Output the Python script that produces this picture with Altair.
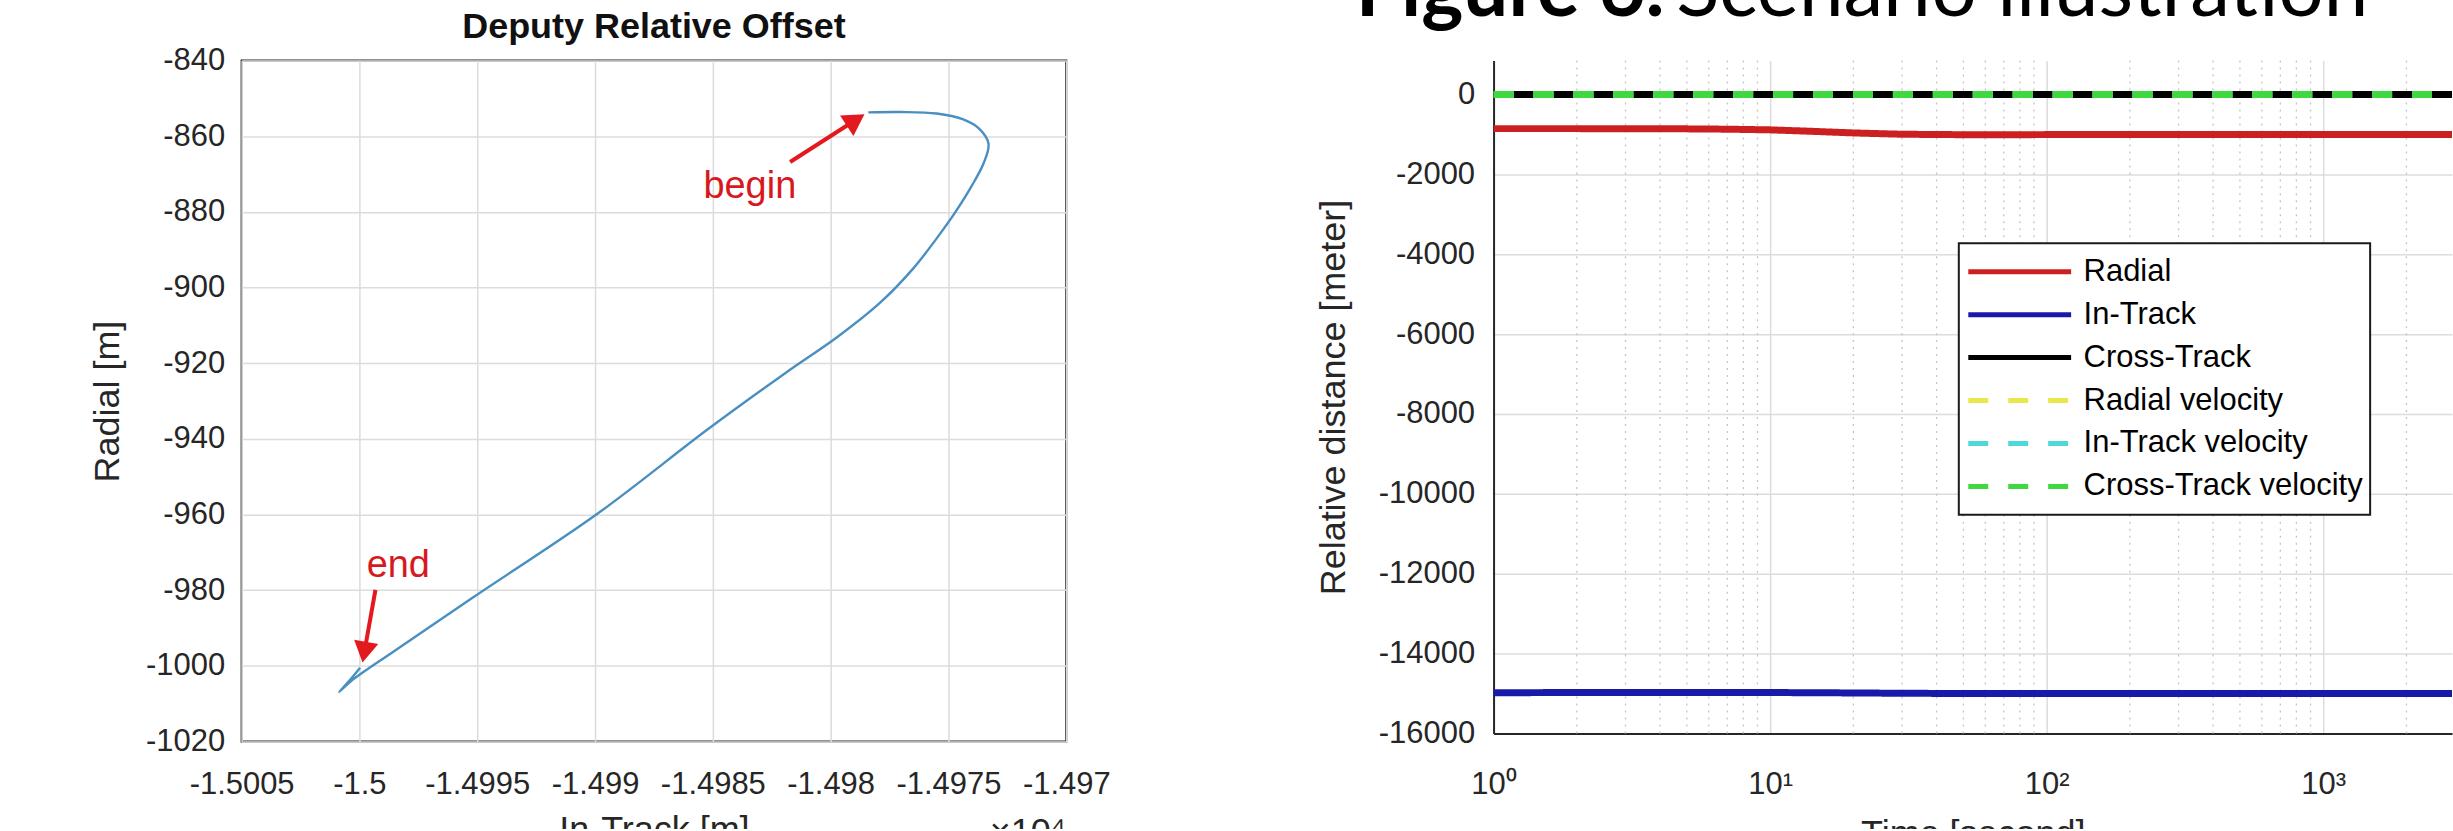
import altair as alt
import pandas as pd

# ---------------- Left panel: Deputy Relative Offset ----------------
# In-Track values are in units of 1e4 m (axis multiplier x10^4), Radial in m
traj_intrack = [-1.49784, -1.49770, -1.49755, -1.49744, -1.49737, -1.49733, -1.49735,
                -1.49740, -1.49747, -1.49755, -1.49765, -1.49779, -1.49797, -1.49819,
                -1.49852, -1.49899, -1.49952, -1.49985, -1.500035, -1.500086,
                -1.500045, -1.499997]
traj_radial = [-853.7, -853.6, -854.0, -855.5, -858.0, -862.0, -867.0, -873.0, -880.0,
               -887.0, -895.0, -904.0, -913.0, -922.5, -937.4, -959.8, -982.0, -996.0,
               -1004.0, -1006.9, -1004.1, -1000.5]

left_xticks = [-1.5005, -1.5, -1.4995, -1.499, -1.4985, -1.498, -1.4975, -1.497]
left_yticks = [-840, -860, -880, -900, -920, -940, -960, -980, -1000, -1020]

annot_text = ["begin", "end"]
annot_x = [-1.498343, -1.499835]
annot_y = [-876.2, -976.4]
arrow_tail_x = [-1.498172, -1.499932]
arrow_tail_y = [-866.8, -979.9]
arrow_head_x = [-1.497894, -1.499979]
arrow_head_y = [-855.7, -996.4]
arrow_angle = [57, 190]

# ---------------- Right panel: Relative distance vs time ----------------
time_s = [1, 2, 3, 5, 7, 10, 14, 20, 30, 50, 100, 200, 500, 1000, 2000, 3000]
radial_m = [-854, -854, -856, -860, -868, -885, -920, -962, -995, -1006, -1004, -1001,
            -1000, -1000, -1000, -1000]
intrack_m = [-14978, -14976, -14975, -14973, -14973, -14975, -14979, -14985, -14993,
             -14999, -15001, -15001, -15000, -15000, -15000, -15000]
crosstrack_m = [0, 0, 0, 0, 0, 0, 0, 0, 0, 0, 0, 0, 0, 0, 0, 0]
radial_vel = [0, 0, 0, 0, 0, 0, 0, 0, 0, 0, 0, 0, 0, 0, 0, 0]
intrack_vel = [0, 0, 0, 0, 0, 0, 0, 0, 0, 0, 0, 0, 0, 0, 0, 0]
crosstrack_vel = [0, 0, 0, 0, 0, 0, 0, 0, 0, 0, 0, 0, 0, 0, 0, 0]

series_names = ["Radial", "In-Track", "Cross-Track", "Radial velocity",
                "In-Track velocity", "Cross-Track velocity"]
series_values = [radial_m, intrack_m, crosstrack_m, radial_vel, intrack_vel, crosstrack_vel]
series_colors = ["#cc1f1f", "#1a1aa8", "#000000", "#e8e84a", "#4fd8d8", "#40d840"]
series_dash = [[1, 0], [1, 0], [1, 0], [20, 20], [20, 20], [20, 20]]

right_xticks = [1, 10, 100, 1000]
right_xlabels = ["10\u2070", "10\u00b9", "10\u00b2", "10\u00b3"]
right_yticks = [0, -2000, -4000, -6000, -8000, -10000, -12000, -14000, -16000]
minor_x = [2, 3, 4, 5, 6, 7, 8, 9, 20, 30, 40, 50, 60, 70, 80, 90,
           200, 300, 400, 500, 600, 700, 800, 900, 2000]

FONT = "Liberation Sans"
AX = "#262626"
GRID = "#dcdcdc"

# ---------------- build left chart ----------------
df_traj = pd.DataFrame({"i": list(range(len(traj_intrack))),
                        "intrack": traj_intrack, "radial": traj_radial})
df_annot = pd.DataFrame({"intrack": annot_x, "radial": annot_y, "label": annot_text})
df_arrow = pd.DataFrame({"intrack": arrow_tail_x, "radial": arrow_tail_y,
                         "intrack2": arrow_head_x, "radial2": arrow_head_y})
df_head = pd.DataFrame({"intrack": arrow_head_x, "radial": arrow_head_y, "ang": arrow_angle})
df_mult = pd.DataFrame({"t": ["\u00d710\u2074"]})
df_title_l = pd.DataFrame({"t": ["Deputy Relative Offset"]})

xsc_l = alt.Scale(domain=[-1.5005, -1.497], nice=False, zero=False)
ysc_l = alt.Scale(domain=[-1020, -840], nice=False, zero=False)

left_x_axis = alt.Axis(values=left_xticks, labelExpr="datum.value + ''", title="In-Track [m]",
                       grid=True, gridColor=GRID, gridWidth=1.5, domain=False, ticks=False,
                       tickSize=0, labelPadding=28, labelFontSize=31, labelColor=AX,
                       labelFlush=False, labelOverlap=False, titleFontSize=36,
                       titleColor=AX, titleFontWeight="normal", titlePadding=13)
left_y_axis = alt.Axis(values=left_yticks, labelExpr="datum.value + ''", title="Radial [m]",
                       grid=True, gridColor=GRID, gridWidth=1.5, domain=False, ticks=False,
                       tickSize=0, labelPadding=17, labelFontSize=31, labelColor=AX,
                       labelFlush=False, labelOverlap=False, titleFontSize=36,
                       titleColor=AX, titleFontWeight="normal", titlePadding=19)

traj = alt.Chart(df_traj).mark_line(color="#4a8fc2", strokeWidth=2.4,
                                    interpolate="catmull-rom").encode(
    x=alt.X("intrack:Q", scale=xsc_l, axis=left_x_axis),
    y=alt.Y("radial:Q", scale=ysc_l, axis=left_y_axis),
    order="i:Q",
)
arrows = alt.Chart(df_arrow).mark_rule(color="#e3191f", strokeWidth=4).encode(
    x="intrack:Q", y="radial:Q", x2="intrack2:Q", y2="radial2:Q")
heads = alt.Chart(df_head).mark_point(shape="triangle-up", filled=True, size=600,
                                      color="#e3191f", opacity=1, strokeWidth=0).encode(
    x="intrack:Q", y="radial:Q", angle=alt.Angle("ang:Q", scale=None))
annots = alt.Chart(df_annot).mark_text(color="#d81820", fontSize=38, align="center",
                                       baseline="alphabetic").encode(
    x="intrack:Q", y="radial:Q", text="label:N")
mult = alt.Chart(df_mult).mark_text(color=AX, fontSize=36, align="right",
                                    baseline="alphabetic").encode(
    x=alt.value(826), y=alt.value(784), text="t:N")
title_l = alt.Chart(df_title_l).mark_text(color="#111111", fontSize=36, fontWeight="bold",
                                          align="center", baseline="alphabetic").encode(
    x=alt.value(413), y=alt.value(-23), text="t:N")

left = alt.layer(traj, arrows, heads, annots, mult, title_l).properties(
    width=826, height=682,
    view=alt.ViewBackground(stroke=AX, strokeWidth=2),
)

# ---------------- build right chart ----------------
rows = []
for name, vals in zip(series_names, series_values):
    for t, v in zip(time_s, vals):
        rows.append({"time": t, "value": v, "series": name})
df_series = pd.DataFrame(rows)
df_minor = pd.DataFrame({"time": minor_x})
df_fig_a = pd.DataFrame({"t": ["Figure 6."]})
df_fig_b = pd.DataFrame({"t": ["Scenario illustration"]})

xsc_r = alt.Scale(type="log", domain=[1, 2923], nice=False)
ysc_r = alt.Scale(domain=[-16000, 850], nice=False, zero=False)

xlab_expr = ""
for v, lab in zip(right_xticks, right_xlabels):
    xlab_expr += f"datum.value == {v} ? '{lab}' : "
xlab_expr += "''"

right_x_axis = alt.Axis(values=right_xticks, labelExpr=xlab_expr, title="Time [second]",
                        grid=True, gridColor=GRID, gridWidth=1.5, domain=True,
                        domainColor=AX, domainWidth=2, ticks=False, tickSize=0,
                        labelPadding=36, labelFontSize=31, labelColor=AX, labelFlush=False,
                        labelOverlap=False, titleFontSize=36, titleColor=AX,
                        titleFontWeight="normal", titlePadding=17)
right_y_axis = alt.Axis(values=right_yticks, labelExpr="datum.value + ''",
                        title="Relative distance [meter]", grid=True, gridColor=GRID,
                        gridWidth=1.5, domain=True, domainColor=AX, domainWidth=2,
                        ticks=False, tickSize=0, labelPadding=19, labelFontSize=31,
                        labelColor=AX, labelFlush=False, labelOverlap=False,
                        titleFontSize=36, titleColor=AX, titleFontWeight="normal",
                        titlePadding=26)

# legend is hoisted to the concat level: position relative to the left plot origin
leg = alt.Legend(title=None, orient="none", legendX=1720, legendY=183, direction="vertical",
                 symbolType="stroke", symbolSize=10609, symbolStrokeWidth=5, clipHeight=43,
                 rowPadding=0, labelFontSize=31, labelColor="#000000", labelOffset=10,
                 labelLimit=500, padding=7, strokeColor="#1a1a1a", fillColor="white")

minor = alt.Chart(df_minor).mark_rule(color="#c4c4c4", strokeWidth=1.3,
                                      strokeDash=[2, 5]).encode(
    x=alt.X("time:Q", scale=xsc_r, axis=right_x_axis))

line_layers = []
for name in series_names:
    line_layers.append(
        alt.Chart(df_series).transform_filter(alt.datum.series == name)
        .mark_line(strokeWidth=7, clip=True, strokeCap="butt")
        .encode(
            x=alt.X("time:Q", scale=xsc_r),
            y=alt.Y("value:Q", scale=ysc_r, axis=right_y_axis),
            color=alt.Color("series:N", scale=alt.Scale(domain=series_names,
                                                        range=series_colors), legend=leg),
            strokeDash=alt.StrokeDash("series:N", scale=alt.Scale(domain=series_names,
                                                                  range=series_dash),
                                      legend=leg),
        )
    )

fig_a = alt.Chart(df_fig_a).mark_text(font="Lato", fontWeight="bold", fontSize=80,
                                      align="left", baseline="alphabetic",
                                      color="#000000").encode(
    x=alt.value(-138), y=alt.value(-45), text="t:N")
fig_b = alt.Chart(df_fig_b).mark_text(font="Lato", fontSize=80, align="left",
                                      baseline="alphabetic", color="#000000").encode(
    x=alt.value(183), y=alt.value(-45), text="t:N")

right = alt.layer(minor, *line_layers, fig_a, fig_b).properties(
    width=960, height=674,
    view=alt.ViewBackground(stroke="transparent"),
)

chart = alt.hconcat(left, right, spacing=428, bounds="flush").properties(
    padding={"left": 88, "top": -50, "right": 0, "bottom": -24},
    background="white",
).configure(font=FONT).configure_legend(strokeWidth=2)

chart.save("out.html", embed_options={"renderer": "svg", "actions": False})
